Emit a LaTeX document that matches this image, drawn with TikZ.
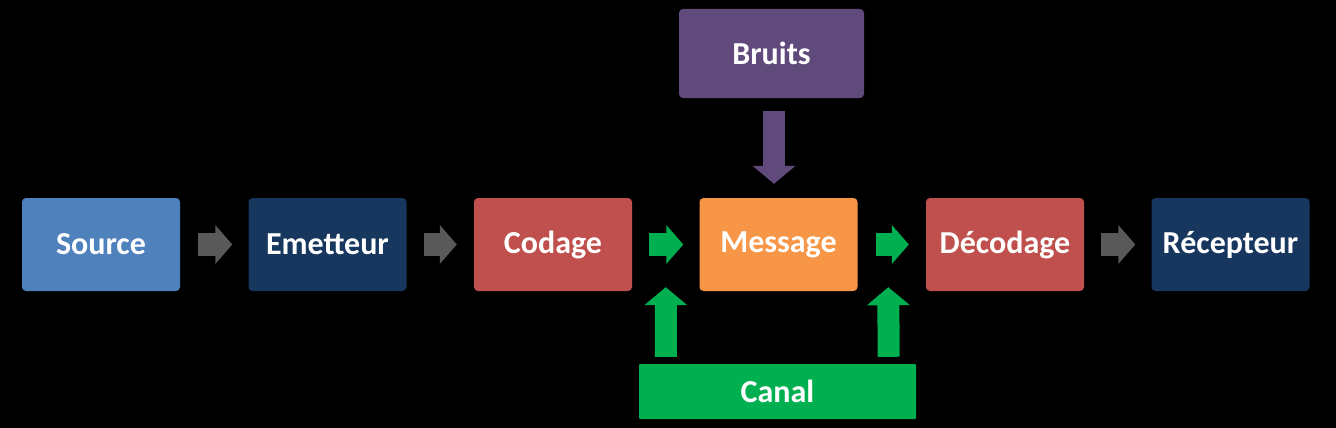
\documentclass[tikz,border=0pt]{standalone}
\usepackage{fontspec}
\setmainfont{Carlito}
\usetikzlibrary{arrows.meta,calc}
\definecolor{cSource}{HTML}{4F81BD}
\definecolor{cNavy}{HTML}{17375E}
\definecolor{cRed}{HTML}{C0504D}
\definecolor{cOrange}{HTML}{F79646}
\definecolor{cPurple}{HTML}{604A7B}
\definecolor{cGreen}{HTML}{00B050}
\definecolor{cGrey}{HTML}{595959}
\tikzset{
  box/.style={rounded corners=4pt, minimum width=158pt, minimum height=93pt, inner sep=0pt,
    text=white, font=\fontsize{32}{38}\selectfont\bfseries},
  blockarrow/.style={line width=23pt, -{Triangle[length=17pt,width=38pt]}},
  vertarrow/.style={line width=22pt, -{Triangle[length=18pt,width=42pt]}}
}
\begin{document}
\begin{tikzpicture}[x=1pt,y=-1pt]
\fill[black] (0,0) rectangle (1336,428);
\useasboundingbox (0,0) rectangle (1336,428);
\node[box, fill=cSource] (src) at (101,244.5) {Source};
\node[box, fill=cNavy] (emt) at (327.5,244.5) {Emetteur};
\node[box, fill=cRed] (cod) at (553,244.5) {Codage};
\node[box, fill=cOrange] (msg) at (778.5,244.5) {Message};
\node[box, fill=cRed] (dec) at (1005,244.5) {Décodage};
\node[box, fill=cNavy] (rec) at (1230.5,244.5) {Récepteur};
\node[box, fill=cPurple, minimum width=185pt, minimum height=89pt] (bru) at (771.5,53.5) {Bruits};
\node[box, fill=cGreen, rounded corners=1pt, minimum width=277pt, minimum height=55pt] (can) at (777.5,391.5) {Canal};
% horizontal arrows
\draw[blockarrow, cGrey] ($(src.east)+(18,0)$) -- ($(emt.west)+(-16,0)$);
\draw[blockarrow, cGrey] ($(emt.east)+(17,0)$) -- ($(cod.west)+(-17,0)$);
\draw[blockarrow, cGreen] ($(cod.east)+(17,0)$) -- ($(msg.west)+(-16,0)$);
\draw[blockarrow, cGreen] ($(msg.east)+(18,0)$) -- ($(dec.west)+(-17,0)$);
\draw[blockarrow, cGrey] ($(dec.east)+(17,0)$) -- ($(rec.west)+(-16,0)$);
% noise arrow
\draw[vertarrow, cPurple] ($(bru.south)+(2.5,13)$) -- ($(msg.north)+(-4.5,-14)$);
% channel arrows
\draw[vertarrow, cGreen] ($(can.north west)+(27,-7)$) -- ($(cod.south east)!0.5!(msg.south west)+(0,-4)$);
\draw[vertarrow, cGreen] ($(can.north east)+(-27.5,-7)$) -- ($(msg.south east)!0.5!(dec.south west)+(-3.5,-4)$);
\end{tikzpicture}
\end{document}
